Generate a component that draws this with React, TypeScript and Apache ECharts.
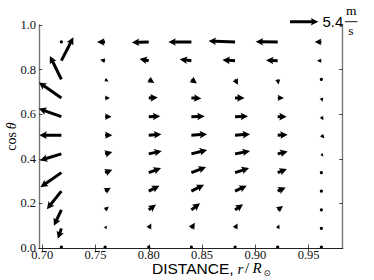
import React, { useEffect, useRef } from "react";
import * as echarts from "echarts";

// Grid positions (data units)
const X_POS = [0.718, 0.759, 0.8, 0.84, 0.881, 0.921, 0.962];
const Y_POS = [0.004, 0.088, 0.171, 0.255, 0.338, 0.422, 0.506, 0.589, 0.673, 0.756, 0.84, 0.924];

// Velocity components (m/s), one row per Y_POS entry (bottom to top), one column per X_POS entry
const U: (number | null)[][] = [
  [0, 0, 0, 0, 0, 0, 0],
  [-0.67, 0.38, 0.48, 0.67, 0.48, 0.29, 0.0],
  [-1.43, 0.71, 1.39, 1.66, 1.53, 1.01, 0.1],
  [-2.77, 1.09, 2.04, 2.42, 2.23, 1.53, 0.2],
  [-4.0, 1.39, 2.35, 2.8, 2.67, 1.77, 0.29],
  [-4.1, 1.39, 2.48, 3.0, 2.86, 1.91, 0.38],
  [-4.2, 1.39, 2.42, 3.0, 2.86, 1.91, 0.6],
  [-4.3, 1.24, 2.19, 2.54, 2.48, 1.72, 0.38],
  [-4.3, 0.95, 1.72, 1.91, 1.81, 1.2, 0.23],
  [-2.19, 0.67, 1.05, 1.05, 0.57, 0.19, 0.44],
  [2.29, -0.95, -1.77, -2.23, -2.42, -2.23, -0.86],
  [0, -1.53, -3.24, -4.39, -5.06, -4.2, -1.28],
];
const V: (number | null)[][] = [
  [0, 0, 0, 0, 0, 0, 0],
  [-2.0, 0.48, 0.95, 1.05, 0.95, 0.76, 0.0],
  [-3.05, 0.63, 1.01, 1.24, 1.09, 0.76, -0.19],
  [-3.44, 0.63, 1.05, 1.24, 1.05, 0.71, -0.5],
  [-2.77, 0.57, 0.86, 1.05, 0.86, 0.67, -0.38],
  [-1.24, 0.38, 0.57, 0.76, 0.57, 0.48, -0.48],
  [0, 0, 0.19, 0.19, 0.19, 0.1, -0.6],
  [1.53, 0, 0.06, 0.06, 0.06, 0, -0.67],
  [2.96, 0, 0.1, -0.1, 0, 0, -0.73],
  [4.48, -0.38, -0.67, -0.76, -1.01, -0.95, 0.35],
  [4.48, 0.19, 0.32, 0.25, 0.15, 0.1, 0],
  [0, 0, -0.1, 0, 0.19, 0.06, 0],
];

const X_TICKS = [0.7, 0.75, 0.8, 0.85, 0.9, 0.95];
const X_MIN = 0.697;
const X_MAX = 0.982;
const Y_MIN = 0;
const Y_MAX = 1.0;
const Y_INTERVAL = 0.2;

const KEY_VALUE = 5.4;
const KEY_LABEL = "5.4";

// arrow style (pixels)
const KEY_LEN_PX = 28.3;
const PX_PER_UNIT = KEY_LEN_PX / KEY_VALUE;
const SHAFT = 3.0;
const HEAD_W = 7.6;
const HEAD_L = 7.5;
const HEAD_AL = 6.5;

function arrowShape(L: number): number[][] {
  const hw = SHAFT / 2;
  const Hw = HEAD_W / 2;
  if (L >= HEAD_L) {
    return [
      [0, -hw],
      [L - HEAD_AL, -hw],
      [L - HEAD_L, -Hw],
      [L, 0],
      [L - HEAD_L, Hw],
      [L - HEAD_AL, hw],
      [0, hw],
    ];
  }
  const s = L / HEAD_L;
  return arrowShape(HEAD_L).map(([a, b]) => [a * s, b * s]);
}

function arrowPolygon(px: number, py: number, dx: number, dy: number): number[][] {
  const L = Math.hypot(dx, dy);
  const ang = Math.atan2(dy, dx);
  const c = Math.cos(ang);
  const sn = Math.sin(ang);
  return arrowShape(L).map(([a, b]) => [px + a * c - b * sn, py + a * sn + b * c]);
}

const SERIF = "'Liberation Serif', 'DejaVu Serif', serif";
const SANS = "'Liberation Sans', Arial, sans-serif";

export default function App() {
  const ref = useRef<HTMLDivElement>(null);

  useEffect(() => {
    if (!ref.current) return;
    const chart = echarts.init(ref.current, undefined, { renderer: "svg" });

    const data: number[][] = [];
    Y_POS.forEach((y, k) => {
      X_POS.forEach((x, i) => {
        const u = U[k][i];
        const v = V[k][i];
        if (u === null || v === null) return;
        data.push([x, y, u, v]);
      });
    });

    const keyX = 290;
    const keyY = 21.7;

    const axisLineDark = { show: true, lineStyle: { color: "#222", width: 1 } };
    const axisLineSide = { show: true, lineStyle: { color: "#777", width: 1.4 } };
    const tickStyle = { color: "#222", width: 0.8 };

    const option: any = {
      animation: false,
      grid: { left: 39, top: 25, right: 31.3, bottom: 32, containLabel: false },
      xAxis: [
        {
          type: "value",
          position: "bottom",
          min: X_MIN,
          max: X_MAX,
          axisLine: axisLineDark,
          axisTick: { show: true, inside: true, length: 3.5, customValues: X_TICKS, lineStyle: tickStyle },
          axisLabel: {
            show: true,
            customValues: X_TICKS,
            formatter: (v: number) => v.toFixed(2),
            fontFamily: SERIF,
            fontSize: 12.5,
            lineHeight: 10,
            color: "#111",
            margin: 2,
          },
          splitLine: { show: false },
        },
        {
          type: "value",
          position: "top",
          min: X_MIN,
          max: X_MAX,
          axisLine: axisLineDark,
          axisTick: { show: true, inside: true, length: 3.5, customValues: X_TICKS, lineStyle: tickStyle },
          axisLabel: { show: false },
          splitLine: { show: false },
        },
      ],
      yAxis: [
        {
          type: "value",
          position: "left",
          min: Y_MIN,
          max: Y_MAX,
          interval: Y_INTERVAL,
          axisLine: axisLineSide,
          axisTick: { show: true, inside: true, length: 3.5, lineStyle: tickStyle },
          axisLabel: {
            show: true,
            formatter: (v: number) => v.toFixed(1),
            fontFamily: SERIF,
            fontSize: 12.5,
            lineHeight: 10,
            color: "#111",
            margin: 3,
          },
          splitLine: { show: false },
        },
        {
          type: "value",
          position: "right",
          min: Y_MIN,
          max: Y_MAX,
          interval: Y_INTERVAL,
          axisLine: axisLineSide,
          axisTick: { show: true, inside: true, length: 3.5, lineStyle: tickStyle },
          axisLabel: { show: false },
          splitLine: { show: false },
        },
      ],
      series: [
        {
          type: "custom",
          xAxisIndex: 0,
          yAxisIndex: 0,
          clip: true,
          data,
          encode: { x: 0, y: 1 },
          renderItem: (params: any, api: any) => {
            const x = api.value(0);
            const y = api.value(1);
            const u = api.value(2);
            const v = api.value(3);
            const p = api.coord([x, y]);
            const dx = u * PX_PER_UNIT;
            const dy = -v * PX_PER_UNIT;
            const L = Math.hypot(dx, dy);
            if (L < SHAFT) {
              return {
                type: "circle",
                shape: { cx: p[0], cy: p[1], r: 1.6 },
                style: { fill: "#000" },
              };
            }
            return {
              type: "polygon",
              shape: { points: arrowPolygon(p[0], p[1], dx, dy) },
              style: { fill: "#000" },
            };
          },
        },
      ],
      graphic: [
        {
          type: "polygon",
          shape: { points: arrowPolygon(keyX, keyY, KEY_VALUE * PX_PER_UNIT, 0) },
          style: { fill: "#000" },
        },
        {
          type: "text",
          x: 322.5,
          y: 21,
          style: { text: KEY_LABEL, font: `15px ${SANS}`, fill: "#000", align: "left", verticalAlign: "middle" },
        },
        {
          type: "text",
          x: 351.2,
          y: 10.5,
          style: { text: "m", font: `13.5px ${SERIF}`, fill: "#000", align: "center", verticalAlign: "middle" },
        },
        {
          type: "line",
          shape: { x1: 345, y1: 21.7, x2: 357.5, y2: 21.7 },
          style: { stroke: "#000", lineWidth: 0.9 },
        },
        {
          type: "text",
          x: 350.8,
          y: 30.5,
          style: { text: "s", font: `13.5px ${SERIF}`, fill: "#000", align: "center", verticalAlign: "middle" },
        },
        {
          type: "text",
          x: 152,
          y: 268,
          style: { text: "DISTANCE,", font: `15.5px ${SANS}`, lineHeight: 13, fill: "#000", align: "left", verticalAlign: "middle" },
        },
        {
          type: "text",
          x: 237.5,
          y: 268.5,
          style: { text: "r", font: `italic 15px ${SERIF}`, lineHeight: 12, fill: "#000", align: "left", verticalAlign: "middle" },
        },
        {
          type: "text",
          x: 245,
          y: 267.5,
          style: { text: "/", font: `15px ${SERIF}`, lineHeight: 12, fill: "#000", align: "left", verticalAlign: "middle" },
        },
        {
          type: "text",
          x: 252.5,
          y: 267.5,
          style: { text: "R", font: `italic 15px ${SERIF}`, lineHeight: 12, fill: "#000", align: "left", verticalAlign: "middle" },
        },
        {
          type: "text",
          x: 263.5,
          y: 272.5,
          style: { text: "⊙", font: `8.5px 'DejaVu Sans', sans-serif`, lineHeight: 8, fill: "#000", align: "left", verticalAlign: "middle" },
        },
        {
          type: "text",
          x: 11,
          y: 136.5,
          rotation: Math.PI / 2,
          style: {
            text: "{a|cos}{g| }{b|θ}",
            fill: "#000",
            align: "center",
            verticalAlign: "middle",
            rich: {
              a: { font: `14px ${SERIF}`, fill: "#000" },
              g: { font: `12px ${SERIF}` },
              b: { font: `italic 14px ${SERIF}`, fill: "#000" },
            },
          },
        },
      ],
    };

    chart.setOption(option);
    return () => chart.dispose();
  }, []);

  return (
    <div
      ref={ref}
      style={{ position: "absolute", left: 0, top: 0, width: 374, height: 280, background: "#fff" }}
    />
  );
}
